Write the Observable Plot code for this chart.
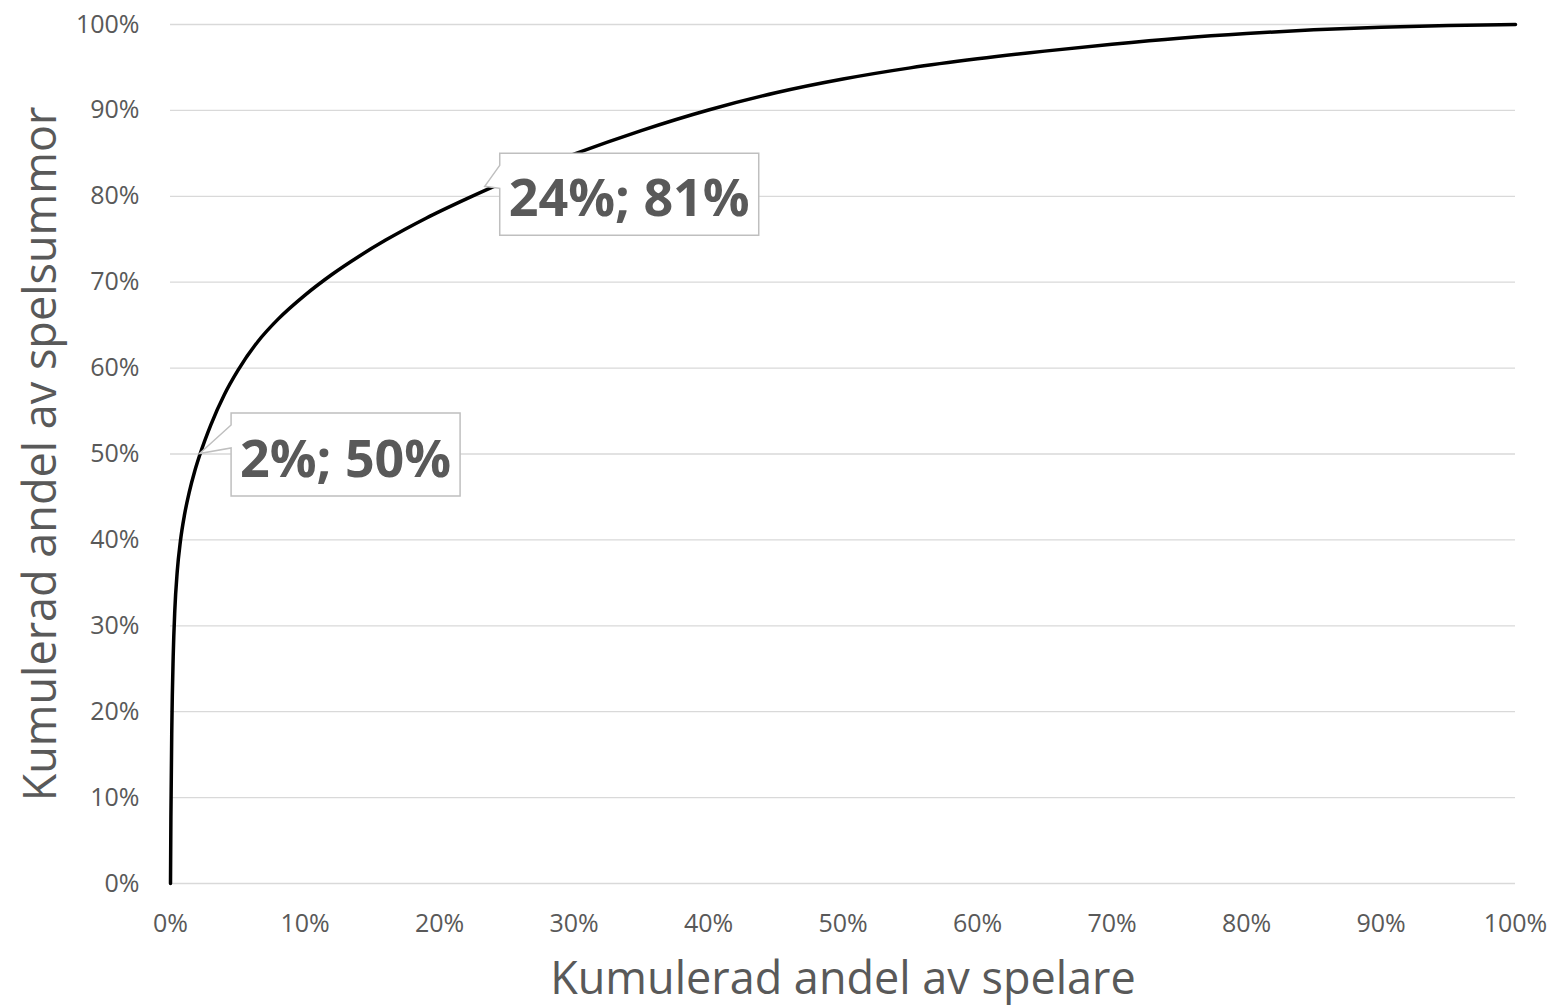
<!DOCTYPE html>
<html>
<head>
<meta charset="utf-8">
<script src="https://cdn.jsdelivr.net/npm/d3@7"></script>
<script src="https://cdn.jsdelivr.net/npm/@observablehq/plot@0.6"></script>
<style>
html, body { margin: 0; padding: 0; background: #ffffff; }
#chart svg { display: block; }
</style>
</head>
<body>
<div id="chart"></div>
<script>
// ---------------- data ----------------
const shareOfPlayers = [0, 0.0003, 0.001, 0.002, 0.0032, 0.005, 0.0074, 0.0105, 0.014, 0.018,
  0.022, 0.03, 0.04, 0.05, 0.065, 0.08, 0.10, 0.12, 0.14, 0.16, 0.19, 0.22, 0.25, 0.30, 0.35,
  0.40, 0.45, 0.50, 0.55, 0.60, 0.65, 0.70, 0.75, 0.80, 0.85, 0.90, 0.95, 1.0];
const shareOfStakes = [0, 0.078, 0.184, 0.264, 0.318, 0.363, 0.399, 0.430, 0.456, 0.480,
  0.500, 0.534, 0.569, 0.597, 0.631, 0.657, 0.685, 0.709, 0.730, 0.749, 0.7745, 0.797, 0.818, 0.849, 0.8765,
  0.9005, 0.9205, 0.9365, 0.9495, 0.960, 0.969, 0.977, 0.984, 0.9895, 0.9938, 0.9968, 0.9988, 1.0];

const xTicks = [0, 0.1, 0.2, 0.3, 0.4, 0.5, 0.6, 0.7, 0.8, 0.9, 1.0];
const yTicks = [0, 0.1, 0.2, 0.3, 0.4, 0.5, 0.6, 0.7, 0.8, 0.9, 1.0];

const xTitle = "Kumulerad andel av spelare";
const yTitle = "Kumulerad andel av spelsummor";

const calloutX = [0.022, 0.234];
const calloutY = [0.50, 0.811];
const calloutLabels = ["2%; 50%", "24%; 81%"];

// ---------------- layout / style ----------------
const TEXT = "#595959";
const GRID = "#d9d9d9";
const FONT = "'Open Sans', 'Noto Sans', sans-serif";
// box placement relative to the pointer tip (pixels)
const boxLayout = [
  {dx: 31.5, dy: -40.5, w: 229, h: 83},
  {dx: 15, dy: -33, w: 259, h: 82}
];

const curve = shareOfPlayers.map((x, i) => ({x, y: shareOfStakes[i]}));
const callouts = calloutLabels.map((label, i) => ({x: calloutX[i], y: calloutY[i], label}));

function calloutMark(index, scales) {
  const g = d3.create("svg:g");
  callouts.forEach((c, i) => {
    const tx = scales.x(c.x), ty = scales.y(c.y);
    const b = boxLayout[i];
    const left = tx + b.dx, top = ty + b.dy, right = left + b.w, bottom = top + b.h;
    g.append("path")
      .attr("d", `M${left},${top}H${right}V${bottom}H${left}V${top + 35}L${tx},${ty}L${left},${top + 12}Z`)
      .attr("fill", "#ffffff")
      .attr("stroke", "#bfbfbf")
      .attr("stroke-width", 1.5)
      .attr("stroke-linejoin", "miter");
    g.append("text")
      .attr("x", left + b.w / 2)
      .attr("y", top + b.h / 2 + 22)
      .attr("text-anchor", "middle")
      .attr("font-family", FONT)
      .attr("font-weight", "bold")
      .attr("font-size", 52)
      .attr("fill", TEXT)
      .text(c.label);
  });
  return g.node();
}

const pct = d3.format(".0%");

const chart = Plot.plot({
  width: 1552,
  height: 1007,
  marginLeft: 170,
  marginRight: 37,
  marginTop: 24,
  marginBottom: 124,
  style: {background: "#ffffff", color: TEXT, fontFamily: FONT},
  x: {domain: [0, 1]},
  y: {domain: [0, 1]},
  marks: [
    Plot.gridY(yTicks, {stroke: GRID, strokeOpacity: 1, strokeWidth: 1.3}),
    Plot.axisX({ticks: xTicks, tickFormat: pct, tickSize: 0, tickPadding: 31, fontSize: 25, label: null, fill: TEXT}),
    Plot.axisY({ticks: yTicks, tickFormat: pct, tickSize: 0, tickPadding: 31, fontSize: 25, label: null, fill: TEXT}),
    Plot.line(curve, {x: "x", y: "y", stroke: "#000000", strokeWidth: 3.5, curve: "monotone-x"}),
    calloutMark,
    Plot.text([xTitle], {text: d => d, frameAnchor: "bottom", textAnchor: "middle", lineAnchor: "middle", dy: 96, fontSize: 45, fill: TEXT}),
    Plot.text([yTitle], {text: d => d, frameAnchor: "left", textAnchor: "middle", lineAnchor: "middle", rotate: -90, dx: -129, fontSize: 45, fill: TEXT})
  ]
});
document.getElementById("chart").appendChild(chart);
</script>
</body>
</html>
